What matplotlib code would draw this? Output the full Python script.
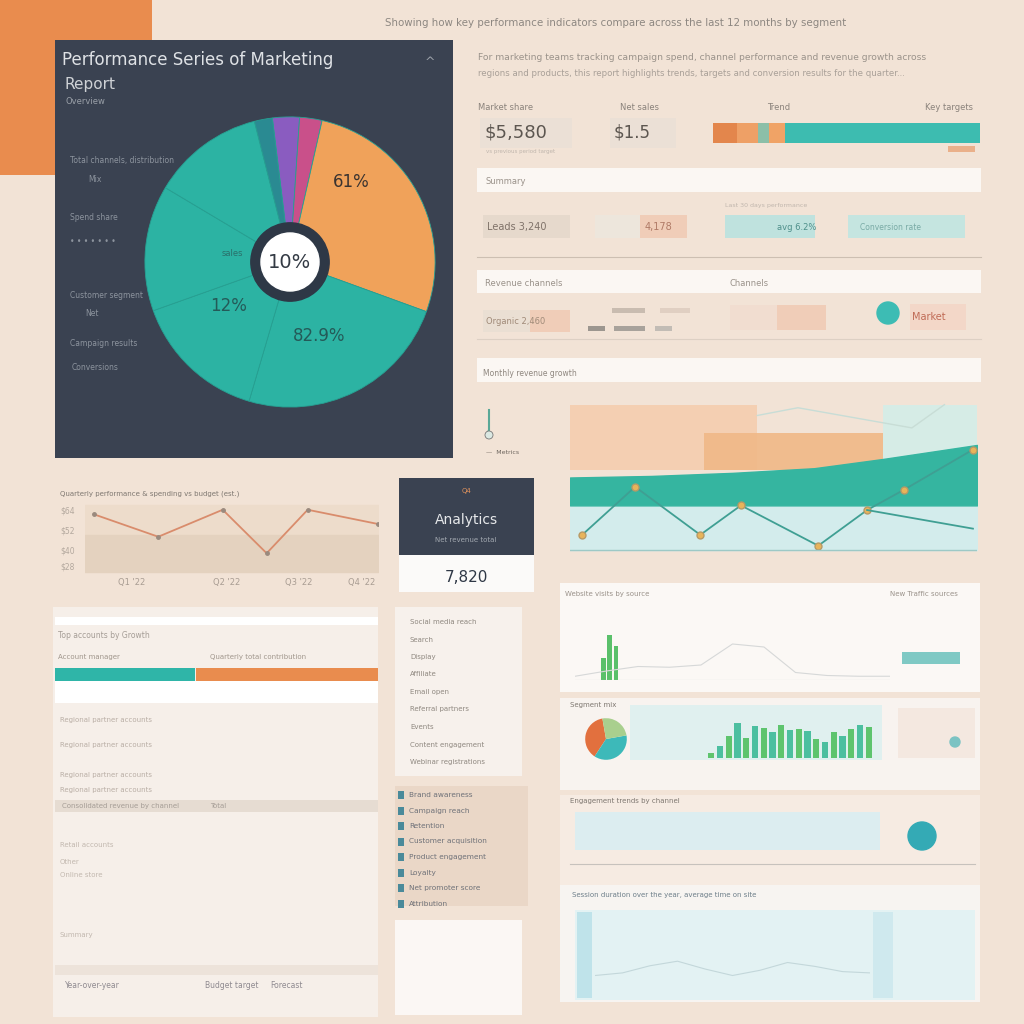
"""
Marketing performance dashboard, drawn on one canvas in pixel coordinates.
"""
import matplotlib
matplotlib.use("Agg")
import matplotlib.pyplot as plt
from matplotlib.patches import Rectangle, Circle

# ---- data ----
pie_labels = ["Brand", "Social", "Paid search", "Email", "Direct", "Referral", "Events", "Other"]
pie_shares = [3, 2.5, 27, 24, 15, 14, 12.5, 2]
pie_colors = ["#8a5cc0", "#c9508a", "#f0a25a", "#2cb3a3", "#2cb3a3", "#2cb3a3", "#2cb3a3", "#2a8a92"]

growth_x = [0.3, 1.6, 3.2, 4.2, 6.1, 7.3, 8.2, 9.9]
growth_y = [13, 44, 13, 32, 6, 29, 42, 68]
churn_x = [7.3, 9.9]
churn_y = [29, 17]
band_x = [0, 2, 4, 6, 7.7, 10]
band_top = [50, 51, 53, 56, 62, 71]
band_low = [32, 32, 32, 32, 32, 32]
target_x = [4.6, 5.6, 8.4, 9.2]
target_y = [90, 95, 82, 97]

quarter_x = [0.3, 2.5, 4.7, 6.2, 7.6, 10]
quarter_y = [81, 51, 87, 29, 87, 68]
quarter_ticks = ["Q1 '22", "Q2 '22", "Q3 '22", "Q4 '22"]

channel_bars = [10, 24, 46, 72, 42, 66, 62, 55, 68, 58, 60, 56, 40, 34, 55, 46, 60, 68, 64]
mix_shares = [38, 37, 25]
mix_colors = ["#e2703e", "#3db9b9", "#a9cf8e"]

visits_x = [0, 1, 2, 3, 4, 5, 6, 7, 8, 9, 10]
visits_y = [5, 12, 18, 17, 20, 48, 44, 10, 6, 5, 5]
session_x = [0, 1, 2, 3, 4, 5, 6, 7, 8, 9, 10]
session_y = [30, 34, 45, 52, 40, 30, 38, 50, 44, 36, 34]

kpi_mix = [9, 8, 4, 6, 73]
kpi_mix_colors = ["#e3864c", "#eea066", "#8bbfa8", "#f0a366", "#3dbcb0"]

BG = "#f2e3d6"
DARK = "#3a4251"
TEAL = "#2cb3a3"
ORANGE = "#e98c4e"
FAINT = "#a89e96"

fig = plt.figure(figsize=(10.24, 10.24), dpi=100)
fig.patch.set_facecolor(BG)

# canvas axes in pixel coordinates (y downward)
cv = fig.add_axes([0, 0, 1, 1])
cv.set_xlim(0, 1024)
cv.set_ylim(1024, 0)
cv.axis("off")


def box(x0, y0, x1, y1, color, alpha=1.0, z=1, ec="none"):
    cv.add_patch(Rectangle((x0, y0), x1 - x0, y1 - y0, facecolor=color,
                           edgecolor=ec, alpha=alpha, zorder=z))


def txt(x, y, s, size=6, color=FAINT, **kw):
    cv.text(x, y, s, fontsize=size, color=color, va="center", zorder=5, **kw)


def px_axes(x0, y0, x1, y1):
    return fig.add_axes([x0 / 1024, 1 - y1 / 1024, (x1 - x0) / 1024, (y1 - y0) / 1024])


# orange corner block and header text
box(0, 0, 152, 175, ORANGE)
txt(385, 23, "Showing how key performance indicators compare across the last 12 months by segment",
    size=7.4, color="#8d8781")
txt(478, 58, "For marketing teams tracking campaign spend, channel performance and revenue growth across",
    size=6.6, color="#9a928a")
txt(478, 73, "regions and products, this report highlights trends, targets and conversion results for the quarter...",
    size=6.2, color="#a9a098")

# ---- dark pie panel ----
box(55, 40, 453, 458, DARK, z=2)
txt(62, 60, "Performance Series of Marketing", size=12, color="#dfe2e6")
txt(65, 84, "Report", size=11, color="#cfd2d6")
txt(66, 102, "Overview", size=6, color="#9aa0a8")
txt(425, 63, "^", size=9, color="#9aa0a8")
left_notes = [(70, 160, "Total channels, distribution"), (88, 180, "Mix"),
              (70, 218, "Spend share"), (70, 242, "• • • • • • •"),
              (70, 296, "Customer segment"), (85, 313, "Net"),
              (70, 344, "Campaign results"), (72, 368, "Conversions")]
for x, y, s in left_notes:
    txt(x, y, s, size=5.5, color="#8d949e")

pax = px_axes(142, 114, 438, 410)
pax.pie(pie_shares, colors=pie_colors, startangle=97, counterclock=False,
        wedgeprops=dict(edgecolor="#27a092", linewidth=0.6))
pax.add_patch(Circle((0, 0), 0.27, color="#2e3846", zorder=4))
pax.add_patch(Circle((0, 0), 0.2, color="white", zorder=5))
pax.text(0, 0, "10%", ha="center", va="center", fontsize=14, color="#333a44", zorder=6)
pax.text(0.42, 0.55, "61%", ha="center", va="center", fontsize=12, color="#3a3330")
pax.text(-0.42, -0.3, "12%", ha="center", va="center", fontsize=12, color="#245a58")
pax.text(0.2, -0.51, "82.9%", ha="center", va="center", fontsize=12, color="#245a58")
pax.text(-0.4, 0.06, "sales", ha="center", va="center", fontsize=6, color="#2a6f6a")
pax.set_xlim(-1.02, 1.02)
pax.set_ylim(-1.02, 1.02)

# ---- KPI row ----
txt(478, 107, "Market share", size=6, color="#8a827b")
txt(620, 107, "Net sales", size=6, color="#8a827b")
txt(767, 107, "Trend", size=6, color="#8a827b")
txt(925, 107, "Key targets", size=6, color="#8a827b")
box(480, 118, 572, 148, "#ebe0d6")
txt(484, 132, "$5,580", size=13, color="#5c5650")
box(610, 118, 676, 148, "#ebe0d6")
txt(614, 132, "$1.5", size=12, color="#5c5650")
txt(486, 152, "vs previous period target", size=4, color="#c0b6ad")
kax = px_axes(713, 123, 980, 143)
left = 0
for v, c in zip(kpi_mix, kpi_mix_colors):
    kax.barh(0, v, left=left, height=1, color=c)
    left += v
kax.set_xlim(0, sum(kpi_mix))
kax.set_ylim(-0.5, 0.5)
kax.axis("off")
box(948, 146, 975, 152, "#eab08a")

# ---- summary row ----
box(477, 168, 981, 192, "#fbf7f3", z=2)
txt(485, 182, "Summary", size=6, color="#9a928a")
txt(725, 205, "Last 30 days performance", size=4.5, color="#c0b6ad")
box(483, 215, 570, 238, "#e6d9cc")
box(595, 215, 687, 238, "#ede6dc")
box(640, 215, 687, 238, "#f0cdb8")
box(725, 215, 815, 238, "#bfe2de")
box(848, 215, 965, 238, "#c5e5e0")
txt(487, 227, "Leads 3,240", size=7, color="#7f7269")
txt(645, 227, "4,178", size=7, color="#b07a66")
txt(777, 227, "avg 6.2%", size=6, color="#4e8f8a")
txt(860, 227, "Conversion rate", size=5.5, color="#79aaa5")
cv.plot([477, 981], [257, 257], color="#cdbfb2", lw=0.8, zorder=3)

# ---- revenue row ----
box(477, 270, 981, 293, "#fbf7f3", z=2)
txt(485, 283, "Revenue channels", size=6, color="#9a928a")
txt(730, 283, "Channels", size=6, color="#9a928a")
box(483, 310, 570, 332, "#eadfd3")
box(530, 310, 570, 332, "#f0cdb8")
txt(486, 322, "Organic 2,460", size=6, color="#a08a78")
box(612, 308, 645, 313, "#c9bcb0")
box(660, 308, 690, 313, "#e0cfc2")
box(588, 326, 605, 331, "#9c968f")
box(614, 326, 645, 331, "#a8a29b")
box(655, 326, 672, 331, "#c2bcb5")
box(730, 305, 826, 330, "#f1ddd0")
box(777, 305, 826, 330, "#f0cdb8")
cv.add_patch(Circle((888, 313), 11, color="#3dbcb4", zorder=3))
box(910, 304, 966, 330, "#f3d7c8")
txt(912, 317, "Market", size=7, color="#c06a55")
cv.plot([477, 981], [339, 339], color="#ddd0c4", lw=0.8, zorder=3)

# ---- monthly growth chart ----
box(477, 358, 981, 382, "#fbf7f3", z=2)
txt(483, 374, "Monthly revenue growth", size=5.5, color="#8f877f")
cv.plot([489, 489, 487], [410, 430, 435], color="#5aa897", lw=1.5, zorder=3)
cv.add_patch(Circle((489, 435), 4, facecolor="#dbe8e2", edgecolor="#777", lw=0.6, zorder=3))
txt(486, 452, "—  Metrics", size=4.5, color="#6d655e")
gax = px_axes(570, 400, 977, 555)
gax.set_facecolor("#f2ece6")
gax.bar(2.3, 42, bottom=55, width=4.6, color="#f4cfb2")
gax.bar(5.5, 24, bottom=55, width=4.4, color="#f0b887", alpha=0.9)
gax.bar(8.85, 42, bottom=55, width=2.3, color="#d6ece6")
gax.fill_between([0, 10], [3, 3], [32, 32], color="#d3ecec")
gax.fill_between(band_x, band_low, band_top, color="#35b5a0")
gax.plot(target_x, target_y, color="#c8ddd6", lw=1)
gax.plot(growth_x, growth_y, color="#3f9f93", lw=1.3, marker="o", ms=5,
         mfc="#e8b45a", mec="#b79a66")
gax.plot(churn_x, churn_y, color="#3f9f93", lw=1.3)
gax.plot([0, 10], [3, 3], color="#9dc9c6", lw=1)
gax.set_xlim(0, 10)
gax.set_ylim(0, 100)
gax.axis("off")

# ---- quarterly line chart ----
txt(60, 494, "Quarterly performance & spending vs budget (est.)", size=5, color="#7e7770")
qax = px_axes(85, 500, 378, 575)
qax.fill_between([0, 10], [53, 53], [93, 93], color="#eddccb")
qax.fill_between([0, 10], [4, 4], [53, 53], color="#e4d2bf")
qax.plot(quarter_x, quarter_y, color="#d98c6c", lw=1.3, marker="o", ms=2.5,
         mfc="#9a8a7e", mec="#9a8a7e")
qax.set_xlim(0, 10)
qax.set_ylim(0, 100)
qax.axis("off")
for i, y in enumerate([511, 531, 551, 567]):
    txt(60, y, ["$64", "$52", "$40", "$28"][i], size=5.5, color="#b3a89e")
for x, lab in zip([118, 213, 285, 348], quarter_ticks):
    txt(x, 582, lab, size=6, color="#a99d93")

# ---- dark KPI card ----
box(399, 478, 534, 555, DARK, z=2)
box(399, 555, 534, 592, "#fbfaf9", z=2)
txt(466, 491, "Q4", size=5, color="#e0925c", ha="center")
txt(466, 520, "Analytics", size=10, color="#e6e8ea", ha="center")
txt(466, 540, "Net revenue total", size=5, color="#a2a8b0", ha="center")
txt(466, 577, "7,820", size=11, color="#2f3846", ha="center")

# ---- table panel ----
box(53, 607, 378, 1017, "#f6efe9", z=1)
box(55, 617, 378, 625, "#ffffff", z=2)
txt(58, 636, "Top accounts by Growth", size=5.5, color="#a59d96")
txt(58, 657, "Account manager", size=5, color="#a0968c")
txt(210, 657, "Quarterly total contribution", size=5, color="#a0968c")
box(55, 668, 195, 681, "#2fb5a8", z=2)
box(196, 668, 378, 681, ORANGE, z=2)
box(55, 681, 378, 703, "#ffffff", z=2)
table_rows = [720, 745, 775, 790]
for y in table_rows:
    txt(60, y, "Regional partner accounts", size=5, color="#b9aea5")
box(55, 800, 378, 812, "#e6dcd2", z=2)
txt(62, 806, "Consolidated revenue by channel", size=5, color="#a59d96")
txt(210, 806, "Total", size=5, color="#a59d96")
for y, s in [(845, "Retail accounts"), (862, "Other"), (875, "Online store"), (935, "Summary")]:
    txt(60, y, s, size=5, color="#c2b8af")
box(55, 965, 378, 975, "#ede3da", z=2)
txt(65, 985, "Year-over-year", size=5.5, color="#8f8a90")
txt(205, 985, "Budget target", size=5.5, color="#8f8a90")
txt(270, 985, "Forecast", size=5.5, color="#8f8a90")

# ---- middle lists ----
box(395, 607, 522, 776, "#f7f1ec", z=1)
list_items = ["Social media reach", "Search", "Display", "Affiliate", "Email open",
              "Referral partners", "Events", "Content engagement", "Webinar registrations"]
for i, s in enumerate(list_items):
    txt(410, 622 + i * 17.5, s, size=5, color="#8f8880")
box(395, 786, 528, 906, "#ead7c7", z=1)
legend_items = ["Brand awareness", "Campaign reach", "Retention", "Customer acquisition",
                "Product engagement", "Loyalty", "Net promoter score", "Attribution"]
for i, s in enumerate(legend_items):
    y = 795 + i * 15.5
    box(398, y - 4, 404, y + 4, "#4a8a9a", z=3)
    txt(409, y, s, size=5.3, color="#6e7178")
box(395, 920, 522, 1015, "#fbf7f4", z=1)

# ---- right column panels ----
box(560, 583, 980, 692, "#fbf8f5", z=1)
txt(565, 594, "Website visits by source", size=5, color="#9a928a")
txt(890, 594, "New Traffic sources", size=5, color="#9a928a")
vax = px_axes(575, 605, 890, 680)
vax.plot(visits_x, visits_y, color="#d6d8d8", lw=0.8)
vax.bar([0.9, 1.1, 1.3], [30, 60, 45], width=0.15, color="#5ac06a")
vax.plot([0, 10], [0, 0], color="#c0c8c8", lw=0.8)
vax.set_xlim(0, 10)
vax.set_ylim(0, 100)
vax.axis("off")
box(902, 652, 960, 664, "#7fc9c4", z=2)

box(560, 698, 980, 790, "#f8f3ef", z=1)
txt(570, 705, "Segment mix", size=5, color="#7e7770")
box(630, 705, 882, 760, "#e0f0ef", z=2)
mix_ax = px_axes(580, 713, 632, 765)
mix_ax.pie(mix_shares, colors=mix_colors, startangle=100)
bax = px_axes(700, 722, 880, 758)
bax.bar(range(len(channel_bars)), channel_bars,
        color=["#4cbfa0" if i % 2 else "#5ec46e" for i in range(len(channel_bars))], width=0.7)
bax.set_ylim(0, 75)
bax.axis("off")
box(898, 708, 975, 758, "#f4e8e0", z=2)
cv.add_patch(Circle((955, 742), 5, color="#7cc3c3", zorder=3))

box(560, 795, 980, 885, "#f6ebe2", z=1)
txt(570, 801, "Engagement trends by channel", size=5, color="#7e7770")
box(575, 812, 880, 850, "#dcedf0", z=2)
cv.add_patch(Circle((922, 836), 14, color="#34aab5", zorder=3))
cv.plot([570, 975], [864, 864], color="#c7c2bd", lw=0.8, zorder=3)

box(560, 885, 980, 1002, "#f7f4f1", z=1)
txt(572, 895, "Session duration over the year, average time on site", size=5, color="#6e7f8a")
box(575, 910, 975, 1000, "#e3f2f3", z=2)
box(577, 912, 592, 998, "#bfe3ea", z=3)
box(873, 912, 893, 998, "#cfe9ee", z=3)
sax = px_axes(595, 930, 870, 995)
sax.plot(session_x, session_y, color="#c3d7da", lw=0.8)
sax.set_xlim(0, 10)
sax.set_ylim(0, 100)
sax.axis("off")

fig.savefig("out.png", dpi=100, facecolor=BG)
